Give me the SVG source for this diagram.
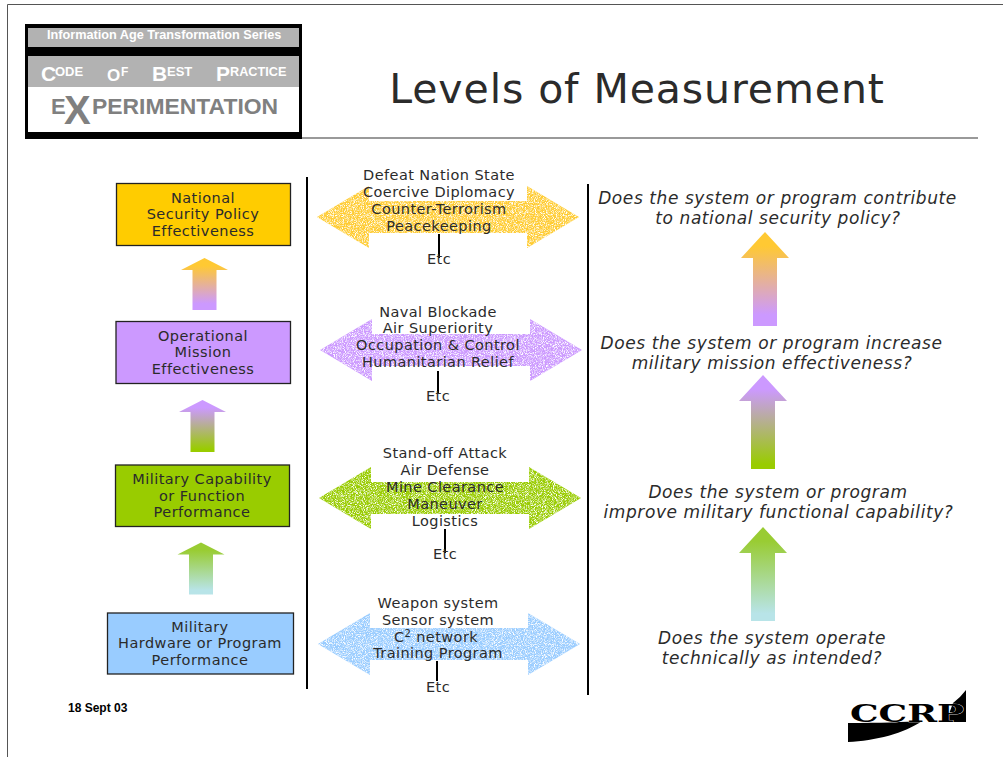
<svg xmlns="http://www.w3.org/2000/svg" width="1003" height="757" viewBox="0 0 1003 757">
<style>
text{font-family:"DejaVu Sans",Verdana,sans-serif;fill:#2b2b2b;text-anchor:middle}
.n{font-size:14.500px;letter-spacing:.45px}
.c{font-size:14.500px;letter-spacing:.42px}
.q{font-size:17px;font-style:italic;letter-spacing:.58px}
.h{font-family:"Liberation Sans",Arial,sans-serif;font-weight:bold;text-anchor:start}
.w{fill:#fff}
.g{fill:#808080}
.box{stroke:#222;stroke-width:1.3}
.rule{stroke:#000;stroke-width:2;fill:none}
</style>
<defs>
<path id="dbl" d="M0 0L52 -31V-16H210V-31L262 0L210 31V16H52V31Z"/>
<path id="upS" d="M0 0L23.500 12H12V52H-12V12H-23.500Z"/>
<path id="upL" d="M0 0L24 26H12V94H-12V26H-24Z"/>
<linearGradient id="gOP" x1="0" y1="0" x2="0" y2="1"><stop offset=".15" stop-color="#ffc933"/><stop offset=".88" stop-color="#cc99ff"/></linearGradient>
<linearGradient id="gPG" x1="0" y1="0" x2="0" y2="1"><stop offset=".15" stop-color="#cc99ff"/><stop offset=".95" stop-color="#99cc00"/></linearGradient>
<linearGradient id="gGB" x1="0" y1="0" x2="0" y2="1"><stop offset=".15" stop-color="#99cc33"/><stop offset=".92" stop-color="#b8e4e8"/></linearGradient>
<filter id="st" x="-2%" y="-5%" width="104%" height="110%" color-interpolation-filters="sRGB">
<feTurbulence type="fractalNoise" baseFrequency="1.1" numOctaves="2" seed="4" result="n"/>
<feColorMatrix in="n" type="matrix" values="0 0 0 0 1 0 0 0 0 1 0 0 0 0 1 0 0 0 3 -1.250" result="sp"/>
<feComposite in="sp" in2="SourceAlpha" operator="in" result="spc"/>
<feMerge><feMergeNode in="SourceGraphic"/><feMergeNode in="spc"/></feMerge>
</filter>
</defs>
<rect width="1003" height="757" fill="#fff"/>
<path d="M7.500 757V4.500H1003" fill="none" stroke="#555" stroke-width="1"/>
<path d="M302 138H978" stroke="#999" stroke-width="2" fill="none"/>

<g id="header">
<rect x="25" y="24" width="277" height="115" fill="#000"/>
<rect x="28" y="28" width="271" height="19" fill="#b2b2b2"/>
<rect x="28" y="56" width="271" height="31" fill="#b2b2b2"/>
<rect x="28" y="87" width="271" height="45" fill="#fff"/>
<text class="h w" x="47" y="39" font-size="12.700">Information Age Transformation Series</text>
<text class="h w" x="41" y="81" font-size="21">C</text><text class="h w" x="55" y="76" font-size="13">ODE</text>
<text class="h w" x="107" y="81" font-size="17">O</text><text class="h w" x="121" y="76" font-size="12">F</text>
<text class="h w" x="152" y="81" font-size="21">B</text><text class="h w" x="167" y="76" font-size="13">EST</text>
<text class="h w" x="216" y="81" font-size="21">P</text><text class="h w" x="230" y="76" font-size="12.700">RACTICE</text>
<text class="h g" x="51" y="114" font-size="22">E</text><text class="h g" x="64" y="124" font-size="40">X</text><text class="h g" x="92" y="114" font-size="22.900">PERIMENTATION</text>
</g>
<text id="title" x="637" y="103" font-size="41" letter-spacing=".9">Levels of Measurement</text>

<g id="connectors">
<path class="rule" d="M307 177V689M588 184V695"/>
<g fill="#ffcc33" filter="url(#st)"><use href="#dbl" x="317" y="217"/></g>
<g fill="#cc99ff" filter="url(#st)"><use href="#dbl" x="320" y="350"/></g>
<g fill="#99cc00" filter="url(#st)"><use href="#dbl" x="319" y="498"/></g>
<g fill="#99ccff" filter="url(#st)"><use href="#dbl" x="318" y="644"/></g>
<path class="rule" d="M439 234V258M438 371V393M445 529V553M437 661V681"/>
<use href="#upS" x="204.500" y="258" fill="url(#gOP)"/>
<use href="#upS" x="202.500" y="400" fill="url(#gPG)"/>
<use href="#upS" x="201" y="542.500" fill="url(#gGB)"/>
<use href="#upL" x="765" y="232" fill="url(#gOP)"/>
<use href="#upL" x="763" y="375" fill="url(#gPG)"/>
<use href="#upL" x="763" y="527" fill="url(#gGB)"/>
</g>

<g id="node-national"><rect class="box" x="116.500" y="183.500" width="174" height="62" fill="#ffcc00"/>
<text class="n" x="203" y="202.500">National</text><text class="n" x="203" y="218.500">Security Policy</text><text class="n" x="203" y="235.500">Effectiveness</text></g>
<g id="node-operational"><rect class="box" x="116" y="321.500" width="174.500" height="62" fill="#cc99ff"/>
<text class="n" x="203" y="340.500">Operational</text><text class="n" x="203" y="356.500">Mission</text><text class="n" x="203" y="373.500">Effectiveness</text></g>
<g id="node-military"><rect class="box" x="115.500" y="465" width="174" height="61.500" fill="#99cc00"/>
<text class="n" x="202" y="483.500">Military Capability</text><text class="n" x="202" y="500.500">or Function</text><text class="n" x="202" y="516.500">Performance</text></g>
<g id="node-hardware"><rect class="box" x="107.500" y="613" width="186" height="61" fill="#99ccff"/>
<text class="n" x="200" y="631.500">Military</text><text class="n" x="200" y="647.500">Hardware or Program</text><text class="n" x="200" y="664.500">Performance</text></g>

<g id="list-1"><text class="c" x="439" y="179.500">Defeat Nation State</text><text class="c" x="439" y="196.500">Coercive Diplomacy</text><text class="c" x="439" y="213.500">Counter-Terrorism</text><text class="c" x="439" y="230.500">Peacekeeping</text><text class="c" x="439" y="263.500">Etc</text></g>
<g id="list-2"><text class="c" x="438" y="316.500">Naval Blockade</text><text class="c" x="438" y="332.500">Air Superiority</text><text class="c" x="438" y="349.500">Occupation &amp; Control</text><text class="c" x="438" y="366.500">Humanitarian Relief</text><text class="c" x="438" y="400.500">Etc</text></g>
<g id="list-3"><text class="c" x="445" y="457.500">Stand-off Attack</text><text class="c" x="445" y="474.500">Air Defense</text><text class="c" x="445" y="491.500">Mine Clearance</text><text class="c" x="445" y="508.500">Maneuver</text><text class="c" x="445" y="525.500">Logistics</text><text class="c" x="445" y="558.500">Etc</text></g>
<g id="list-4"><text class="c" x="438" y="607.500">Weapon system</text><text class="c" x="438" y="624.500">Sensor system</text><text class="c" x="436" y="641.500">C<tspan font-size="10" dy="-5">2</tspan><tspan dy="5"> network</tspan></text><text class="c" x="438" y="657.500">Training Program</text><text class="c" x="438" y="691.500">Etc</text></g>

<g id="q1"><text class="q" x="777.500" y="203.500">Does the system or program contribute</text><text class="q" x="778" y="223.500">to national security policy?</text></g>
<g id="q2"><text class="q" x="771.500" y="348.500">Does the system or program increase</text><text class="q" x="772" y="368.500">military mission effectiveness?</text></g>
<g id="q3"><text class="q" x="778" y="497.500">Does the system or program</text><text class="q" x="778.500" y="517.500">improve military functional capability?</text></g>
<g id="q4"><text class="q" x="772" y="643.500">Does the system operate</text><text class="q" x="772" y="663.500">technically as intended?</text></g>

<text id="date" class="h" x="68" y="712" font-size="12" style="fill:#000">18 Sept 03</text>
<g id="logo">
<path d="M848 723C880 723 905 722 922 721C905 733 875 741 848 742Z" fill="#000"/>
<path d="M966 690V722H946L953 703Q960 698 966 690Z" fill="#000"/>
<text x="907" y="722" font-size="25" font-weight="bold" style="font-family:'DejaVu Serif',serif;fill:#000;stroke:#fff;stroke-width:.6;paint-order:stroke" textLength="114" lengthAdjust="spacingAndGlyphs">CCRP</text>
</g>
</svg>
